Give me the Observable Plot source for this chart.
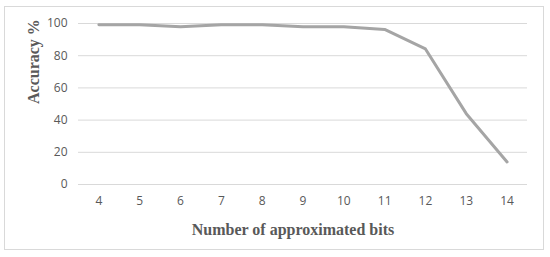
<!DOCTYPE html>
<html>
<head>
<meta charset="utf-8">
<script src="https://cdn.jsdelivr.net/npm/d3@7"></script>
<script src="https://cdn.jsdelivr.net/npm/@observablehq/plot@0.6"></script>
<style>
  html, body { margin: 0; padding: 0; background: #fff; }
  #wrap { position: relative; width: 550px; height: 257px; }
  #border { position: absolute; left: 4px; top: 6px; width: 540px; height: 244px; border: 1px solid #d9d9d9; box-sizing: border-box; pointer-events: none; }
</style>
</head>
<body>
<div id="wrap"><div id="border"></div></div>
<script>
const bits = [4, 5, 6, 7, 8, 9, 10, 11, 12, 13, 14];
const accuracy = [99.3, 99.2, 98, 99.2, 99.2, 98, 98, 96.3, 84.2, 44, 14];
const yTicks = [0, 20, 40, 60, 80, 100];
const xLabel = "Number of approximated bits";
const yLabel = "Accuracy %";

const data = bits.map((b, i) => ({bits: b, acc: accuracy[i]}));

const chart = Plot.plot({
  width: 550,
  height: 257,
  marginLeft: 78,
  marginRight: 23,
  marginTop: 23,
  marginBottom: 73,
  style: {fontFamily: "'Open Sans', sans-serif", fontSize: "12px", color: "#595959", background: "transparent"},
  x: {type: "point", domain: bits, padding: 0.5, round: false},
  y: {domain: [0, 100]},
  marks: [
    Plot.ruleY(yTicks, {stroke: "#d9d9d9", strokeWidth: 1}),
    Plot.axisY({ticks: yTicks, tickSize: 0, tickPadding: 11, label: null, fill: "#595959"}),
    Plot.axisX({tickSize: 0, tickPadding: 12, label: null, fill: "#595959"}),
    Plot.lineY(data, {x: "bits", y: "acc", stroke: "#a5a5a5", strokeWidth: 3, strokeLinejoin: "round", strokeLinecap: "round"}),
    Plot.text([xLabel], {frameAnchor: "bottom", dx: -10, dy: 50, fontFamily: "'Liberation Serif', serif", fontWeight: "bold", fontSize: 16, fill: "#595959"}),
    Plot.text([yLabel], {frameAnchor: "left", dx: -45, rotate: -90, fontFamily: "'Liberation Serif', serif", fontWeight: "bold", fontSize: 16, fill: "#595959"})
  ]
});
document.getElementById("wrap").prepend(chart);
</script>
</body>
</html>
